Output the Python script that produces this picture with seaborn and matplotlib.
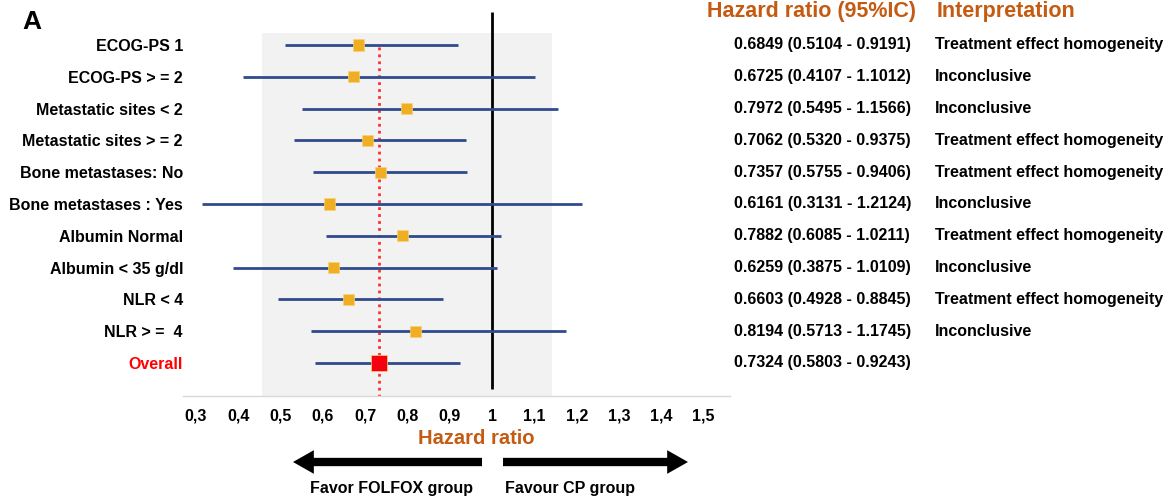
import matplotlib
matplotlib.use('Agg')

import matplotlib.pyplot as plt
import matplotlib.transforms as mtransforms
from matplotlib.patches import Rectangle
import seaborn as sns
import numpy as np
import pandas as pd

# Data
labels = ['ECOG-PS 1', 'ECOG-PS > = 2', 'Metastatic sites < 2', 'Metastatic sites > = 2',
          'Bone metastases: No', 'Bone metastases : Yes', 'Albumin Normal',
          'Albumin < 35 g/dl', 'NLR < 4', 'NLR > =  4', 'Overall']
hr = [0.6849, 0.6725, 0.7972, 0.7062, 0.7357, 0.6161, 0.7882, 0.6259, 0.6603, 0.8194, 0.7324]
ci_low = [0.5104, 0.4107, 0.5495, 0.5320, 0.5755, 0.3131, 0.6085, 0.3875, 0.4928, 0.5713, 0.5803]
ci_high = [0.9191, 1.1012, 1.1566, 0.9375, 0.9406, 1.2124, 1.0211, 1.0109, 0.8845, 1.1745, 0.9243]
interpretation = ['Treatment effect homogeneity', 'Inconclusive', 'Inconclusive',
                  'Treatment effect homogeneity', 'Treatment effect homogeneity', 'Inconclusive',
                  'Treatment effect homogeneity', 'Inconclusive', 'Treatment effect homogeneity',
                  'Inconclusive', '']
xticks = [0.3, 0.4, 0.5, 0.6, 0.7, 0.8, 0.9, 1.0, 1.1, 1.2, 1.3, 1.4, 1.5]
xtick_labels = ['0,3', '0,4', '0,5', '0,6', '0,7', '0,8', '0,9', '1', '1,1', '1,2', '1,3', '1,4', '1,5']

df = pd.DataFrame({'label': labels, 'hr': hr, 'lo': ci_low, 'hi': ci_high})
df['pos'] = np.arange(len(df))
df['kind'] = ['sub'] * (len(df) - 1) + ['overall']
overall_hr = hr[-1]

sns.set_style('white')
plt.rcParams['font.family'] = ['Liberation Sans', 'DejaVu Sans']
plt.rcParams['font.weight'] = 'bold'
plt.rcParams['text.color'] = 'black'
plt.rcParams['xtick.color'] = 'black'
plt.rcParams['ytick.color'] = 'black'

W, H = 1175, 498
fig = plt.figure(figsize=(W / 100, H / 100), dpi=100)
ax = fig.add_axes([183 / W, 1 - 396 / H, (730 - 183) / W, (396 - 10) / H])

ax.set_xlim(0.2693, 1.5624)
ax.set_ylim(11.04, -1.10)

# grey band
ax.add_patch(Rectangle((0.456, -0.377), 1.142 - 0.456, 12, color='#f2f2f2', zorder=0, lw=0))

# reference lines
ax.vlines(1.0, -1.04, 10.82, color='black', lw=2, zorder=2)
ax.vlines(overall_hr, 0.06, 11.04, color='#ff3030', lw=2, linestyles=(0, (1, 1.5)), zorder=2)

# confidence intervals
ax.hlines(df['pos'], df['lo'], df['hi'], color='#2f4b8c', lw=2, zorder=3)

sns.scatterplot(data=df, x='hr', y='pos', hue='kind', size='kind', marker='s',
                palette={'sub': '#f0ae22', 'overall': '#f5000f'},
                sizes={'sub': 64, 'overall': 125}, edgecolor='#f7d27a', linewidth=0.5,
                legend=False, zorder=4, ax=ax)

# axis styling
for s in ['top', 'left', 'right']:
    ax.spines[s].set_visible(False)
ax.spines['bottom'].set_color('#d9d9d9')
ax.spines['bottom'].set_linewidth(1)
ax.set_xticks(xticks)
ax.set_xticklabels(xtick_labels, fontsize=11.5, fontweight='bold')
ax.tick_params(axis='x', length=0, pad=9)
ax.set_yticks(df['pos'])
ax.set_yticklabels(labels, fontsize=11.5, fontweight='bold')
ax.tick_params(axis='y', length=0, pad=0)
ax.get_yticklabels()[-1].set_color('#ff0000')
ax.set_xlabel('')
ax.set_ylabel('')

# right columns
tr = mtransforms.blended_transform_factory(fig.transFigure, ax.transData)
for i in range(len(df)):
    ax.text(734 / W, i, f'{hr[i]:.4f} ({ci_low[i]:.4f} - {ci_high[i]:.4f})', transform=tr,
            ha='left', va='center', fontsize=11.5, fontweight='bold', clip_on=False)
    ax.text(935 / W, i, interpretation[i], transform=tr,
            ha='left', va='center', fontsize=11.5, fontweight='bold', clip_on=False)

head_col = '#c55a11'
fig.text(707 / W, 1 - 12 / H, 'Hazard ratio (95%IC)', color=head_col, fontsize=15.5,
         fontweight='bold', ha='left', va='center')
fig.text(937 / W, 1 - 12 / H, 'Interpretation', color=head_col, fontsize=15.5,
         fontweight='bold', ha='left', va='center')
fig.text(476 / W, 1 - 438 / H, 'Hazard ratio', color=head_col, fontsize=14.5,
         fontweight='bold', ha='center', va='center')
fig.text(22 / W, 1 - 22 / H, 'A', fontsize=19, fontweight='bold', ha='left', va='center')

# direction arrows
arrow_props = dict(arrowstyle='simple,head_length=0.75,head_width=0.85,tail_width=0.3',
                   fc='black', ec='black', lw=0, mutation_scale=20, shrinkA=0, shrinkB=0)
ax.annotate('', xy=(293, H - 462), xytext=(482, H - 462), xycoords='figure pixels',
            textcoords='figure pixels', arrowprops=arrow_props)
ax.annotate('', xy=(688, H - 462), xytext=(503, H - 462), xycoords='figure pixels',
            textcoords='figure pixels', arrowprops=arrow_props)
fig.text(310 / W, 1 - 488 / H, 'Favor FOLFOX group', fontsize=11.5, fontweight='bold',
         ha='left', va='center')
fig.text(505 / W, 1 - 488 / H, 'Favour CP group', fontsize=11.5, fontweight='bold',
         ha='left', va='center')

fig.savefig('out.png', dpi=100)
